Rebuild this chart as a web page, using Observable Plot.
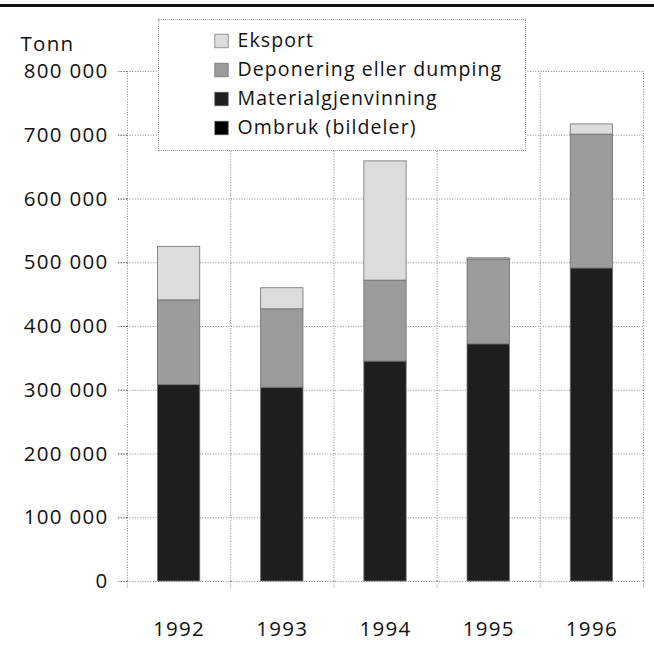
<!DOCTYPE html>
<html><head><meta charset="utf-8">
<script src="https://cdn.jsdelivr.net/npm/d3@7"></script>
<script src="https://cdn.jsdelivr.net/npm/@observablehq/plot@0.6"></script>
<style>
body{margin:0;background:#fff;font-family:"Open Sans",sans-serif;}
#wrap{position:relative;width:654px;height:650px;overflow:hidden;background:#fff}
#rule{position:absolute;left:0;top:4px;width:654px;height:3px;background:#111}
#chart{position:absolute;left:0;top:0}
#legend{position:absolute;left:158px;top:19px;width:368px;height:132px;background:#fff;border:1px dotted #999;box-sizing:border-box}
#chart svg text{letter-spacing:1.3px}
#legend svg text{letter-spacing:1.1px}
</style></head><body><div id="wrap"><div id="rule"></div><div id="chart"></div><div id="legend"></div></div>
<script>
const years = [1992, 1993, 1994, 1995, 1996];
const series = ["Ombruk (bildeler)", "Materialgjenvinning", "Deponering eller dumping", "Eksport"];
const ombruk = [0, 0, 0, 0, 0];
const materialgjenvinning = [308000, 304000, 345000, 372000, 491000];
const deponering = [133000, 123000, 127000, 133000, 210000];
const eksport = [84000, 33000, 187000, 2000, 16000];
const yTicks = [0, 100000, 200000, 300000, 400000, 500000, 600000, 700000, 800000];
const colors = ["#000000", "#1e1e1e", "#9b9b9b", "#dcdcdc"];
const legendOrder = ["Eksport", "Deponering eller dumping", "Materialgjenvinning", "Ombruk (bildeler)"];

const seriesValues = [ombruk, materialgjenvinning, deponering, eksport];
const rows = years.flatMap((yr, i) => series.map((s, k) => ({year: yr, series: s, value: seriesValues[k][i]})));
const halfBar = 0.205;
const boundaries = [years[0] - 0.5, ...years.map(y => y + 0.5)];
const fmt = d => d3.format(",")(d).replace(/,/g, " ");
const dotted = {stroke: "#8a8a8a", strokeDasharray: "1,1.6", strokeOpacity: 1, strokeWidth: 1};

const chart = Plot.plot({
  width: 654, height: 650,
  marginLeft: 127, marginRight: 11, marginTop: 71, marginBottom: 69,
  style: {fontFamily: "'Open Sans', sans-serif", fontSize: "20.5px", color: "#111", background: "transparent"},
  x: {domain: [boundaries[0], boundaries[boundaries.length - 1]]},
  y: {domain: [0, 800000]},
  color: {domain: series, range: colors},
  marks: [
    Plot.ruleY(yTicks, {y: d => d, x1: boundaries[0], x2: boundaries[boundaries.length - 1], ...dotted}),
    Plot.ruleX(boundaries, {x: d => d, y1: 0, y2: 800000, ...dotted}),
    Plot.axisX({ticks: boundaries, tickSize: 7, tickFormat: () => "", label: null, ...dotted}),
    Plot.axisX({ticks: years, tickSize: 0, tickPadding: 40, tickFormat: "d", label: null, fontSize: 20.5}),
    Plot.axisY({ticks: yTicks, tickSize: 9, tickPadding: 10, tickFormat: fmt, label: null, fontSize: 20.5, ...dotted, stroke: undefined}),
    Plot.ruleY(yTicks, {y: d => d, x1: boundaries[0], x2: boundaries[0], insetLeft: -9, ...dotted}),
    Plot.rectY(rows, Plot.stackY({x1: d => d.year - halfBar, x2: d => d.year + halfBar, y: "value", fill: "series", stroke: "#6e6e6e", strokeWidth: 0.8})),
    Plot.text(["Tonn"], {frameAnchor: "top-left", dx: -107, dy: -27, textAnchor: "start", lineAnchor: "middle", fontSize: 20.5, fill: "#111"})
  ]
});
document.getElementById("chart").appendChild(chart);

const legend = Plot.plot({
  width: 366, height: 130,
  marginTop: 5, marginBottom: 7, marginLeft: 0, marginRight: 0,
  style: {fontFamily: "'Open Sans', sans-serif", fontSize: "19px", color: "#111", background: "transparent"},
  x: {axis: null},
  y: {type: "band", domain: legendOrder, axis: null, padding: 0},
  color: {domain: series, range: colors},
  marks: [
    Plot.dot(legendOrder, {y: d => d, frameAnchor: "left", dx: 62, symbol: "square", r: 7.6, fill: d => d, stroke: "#555", strokeWidth: 0.6}),
    Plot.text(legendOrder, {y: d => d, frameAnchor: "left", dx: 78, textAnchor: "start", fontSize: 19.5, fill: "#111"})
  ]
});
document.getElementById("legend").appendChild(legend);
</script>
</body></html>
